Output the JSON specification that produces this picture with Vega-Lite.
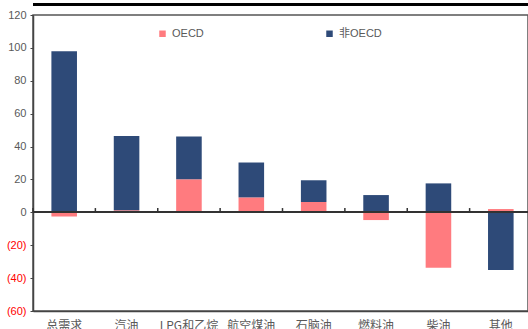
{
  "$schema": "https://vega.github.io/schema/vega-lite/v6.json",
  "autosize": {"type": "none"},
  "width": 495,
  "height": 296,
  "padding": {"left": 33, "top": 15, "right": 0, "bottom": 18},
  "background": "white",
  "config": {
    "view": {"stroke": "#555555", "strokeWidth": 1.5},
    "font": "Liberation Sans, Noto Sans CJK SC",
    "axisY": {"labelOverlap": false, "labelFlush": false}
  },
  "data": {
    "values": [
      {"cat": "总需求", "region": "OECD", "v": -2.6},
      {"cat": "总需求", "region": "非OECD", "v": 98},
      {"cat": "汽油", "region": "OECD", "v": 1.2},
      {"cat": "汽油", "region": "非OECD", "v": 45.2},
      {"cat": "LPG和乙烷", "region": "OECD", "v": 20.1},
      {"cat": "LPG和乙烷", "region": "非OECD", "v": 26},
      {"cat": "航空煤油", "region": "OECD", "v": 9.1},
      {"cat": "航空煤油", "region": "非OECD", "v": 21.2},
      {"cat": "石脑油", "region": "OECD", "v": 6.3},
      {"cat": "石脑油", "region": "非OECD", "v": 13.2},
      {"cat": "燃料油", "region": "OECD", "v": -4.7},
      {"cat": "燃料油", "region": "非OECD", "v": 10.5},
      {"cat": "柴油", "region": "OECD", "v": -33.7},
      {"cat": "柴油", "region": "非OECD", "v": 17.6},
      {"cat": "其他", "region": "OECD", "v": 2},
      {"cat": "其他", "region": "非OECD", "v": -35.1}
    ]
  },
  "layer": [
    {
      "mark": {"type": "bar", "width": {"band": 0.41}},
      "encoding": {
        "x": {
          "field": "cat",
          "type": "nominal",
          "sort": null,
          "scale": {"range": [0, 499], "paddingInner": 0, "paddingOuter": 0},
          "axis": {
            "title": null,
            "labelAngle": 0,
            "ticks": false,
            "domain": true,
            "domainColor": "#444444",
            "domainWidth": 1.5,
            "labelPadding": 9,
            "labelFontSize": 12,
            "labelFont": "Noto Sans CJK SC",
            "labelColor": "#595959",
            "labelBaseline": "top"
          }
        },
        "y": {
          "field": "v",
          "type": "quantitative",
          "stack": "zero",
          "scale": {"domain": [-60, 120], "nice": false},
          "axis": {
            "title": null,
            "values": [-60, -40, -20, 0, 20, 40, 60, 80, 100, 120],
            "tickCount": 12,
            "grid": false,
            "labelOverlap": false,
            "labelFlush": false,
            "domainColor": "#444444",
            "domainWidth": 1.5,
            "tickColor": "#444444",
            "tickSize": 3,
            "labelPadding": 4,
            "labelFontSize": 11,
            "labelColor": {"expr": "datum.value < 0 ? '#FF0000' : '#595959'"},
            "labelExpr": "datum.value < 0 ? '(' + (-datum.value) + ')' : datum.label"
          }
        },
        "order": {"field": "region", "sort": "ascending"},
        "color": {
          "field": "region",
          "type": "nominal",
          "scale": {"domain": ["OECD", "非OECD"], "range": ["#FF7B7F", "#2E4A78"]},
          "legend": {
            "title": null,
            "orient": "none",
            "legendX": 124,
            "legendY": 13,
            "direction": "horizontal",
            "symbolType": "square",
            "symbolSize": 42,
            "symbolStrokeWidth": 0,
            "labelFontSize": 11,
            "labelColor": "#595959",
            "labelOffset": 4,
            "columnPadding": 120
          }
        }
      }
    },
    {
      "mark": {"type": "rule", "color": "#333333", "strokeWidth": 1.5},
      "encoding": {"y": {"datum": 0}}
    },
    {
      "transform": [{"filter": "datum.region == 'OECD'"}],
      "mark": {"type": "rule", "color": "#333333", "strokeWidth": 1.5},
      "encoding": {
        "x": {"field": "cat", "type": "nominal", "sort": null, "bandPosition": 0},
        "y": {"datum": 0},
        "y2": {"datum": 2.6}
      }
    },
    {
      "mark": {"type": "rule", "color": "#000000", "strokeWidth": 2},
      "encoding": {"y": {"datum": 126.5}}
    }
  ]
}
